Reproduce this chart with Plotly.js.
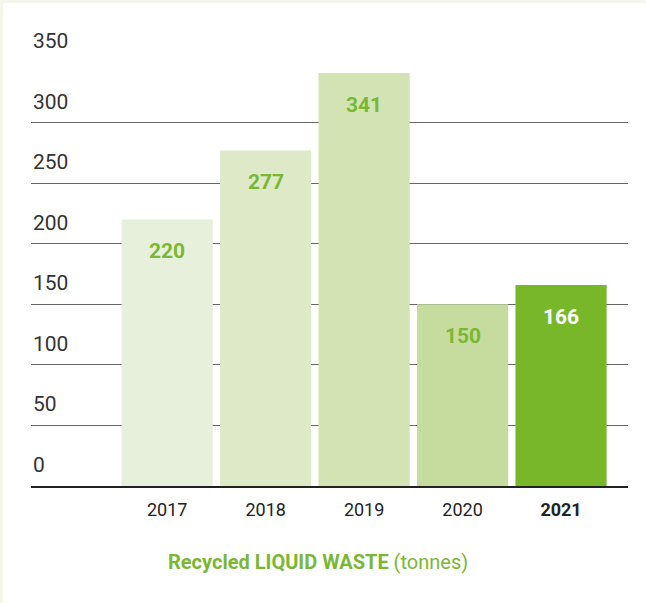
<!DOCTYPE html>
<html>
<head>
<meta charset="utf-8">
<script src="https://cdn.plot.ly/plotly-3.0.1.min.js"></script>
<style>
  html, body { margin: 0; padding: 0; background: #f4f6ec; }
  #chart { position: absolute; left: 3px; top: 3px; width: 643px; height: 600px; background: #ffffff; }
</style>
</head>
<body>
<div id="chart"></div>
<script>
const years = ['2017', '2018', '2019', '2020', '2021'];
const tickLabels = ['2017', '2018', '2019', '2020', '<b>2021</b>'];
const values = [220, 277, 341, 150, 166];
const barColors = ['#e7f0da', '#dde9c7', '#d3e4b4', '#c6dc9f', '#78b72a'];
const labelColors = ['#7ab833', '#7ab833', '#7ab833', '#7ab833', '#ffffff'];
const yTicks = [0, 50, 100, 150, 200, 250, 300, 350];
const titleText = '<b>Recycled LIQUID WASTE</b> (tonnes)';

const FONT = 'Roboto, "Open Sans", sans-serif';

const annotations = [];
yTicks.forEach(v => {
  annotations.push({
    xref: 'paper', yref: 'y', x: 0, y: v, xanchor: 'left', yanchor: 'middle',
    yshift: 21, showarrow: false, text: String(v),
    font: { family: FONT, size: 21, color: '#333333' }
  });
});
years.forEach((yr, i) => {
  annotations.push({
    xref: 'x', yref: 'y', x: i, y: values[i], xanchor: 'center', yanchor: 'middle',
    yshift: -32, showarrow: false,
    text: '<b>' + values[i] + '</b>',
    font: { family: FONT, size: 21, color: labelColors[i] }
  });
});
annotations.push({
  xref: 'paper', yref: 'paper', x: 0.481, y: 0, xanchor: 'center', yanchor: 'middle',
  yshift: -76, showarrow: false, text: titleText,
  font: { family: FONT, size: 20, color: '#7ab833' }
});

const data = [{
  type: 'bar',
  x: years,
  y: values,
  marker: { color: barColors, line: { width: 0 } },
  hoverinfo: 'none'
}];

const layout = {
  width: 643, height: 600,
  margin: { l: 28, r: 18, t: 59, b: 117 },
  paper_bgcolor: '#ffffff',
  plot_bgcolor: '#ffffff',
  showlegend: false,
  bargap: 0.074,
  font: { family: FONT },
  xaxis: {
    type: 'category',
    range: [-1.383, 4.68],
    tickmode: 'array',
    tickvals: years,
    ticktext: tickLabels,
    ticks: '',
    showgrid: false,
    showline: true,
    linecolor: '#222222',
    linewidth: 1.5,
    tickfont: { family: FONT, size: 18, color: '#222222' },
    ticklabelstandoff: 7,
    fixedrange: true
  },
  yaxis: {
    range: [0, 350],
    tickmode: 'array',
    tickvals: yTicks,
    showticklabels: false,
    showgrid: true,
    gridcolor: '#666666',
    gridwidth: 1,
    zeroline: false,
    showline: false,
    fixedrange: true
  },
  annotations: annotations
};

Plotly.newPlot('chart', data, layout, { displayModeBar: false, staticPlot: true });
</script>
</body>
</html>
